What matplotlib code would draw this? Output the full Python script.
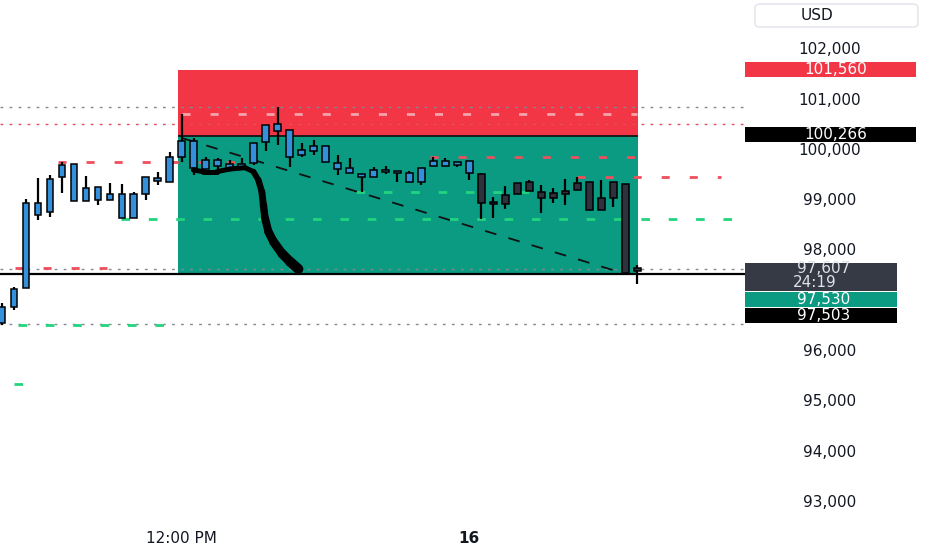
import matplotlib
matplotlib.use("Agg")
import matplotlib.pyplot as plt
import matplotlib.transforms as mtransforms
from matplotlib.patches import Rectangle, FancyBboxPatch
from matplotlib.collections import LineCollection
import numpy as np

plt.rcParams['font.family'] = ['DejaVu Sans']
plt.rcParams['lines.scale_dashes'] = False

# ---------------- data ----------------
opens = [96540, 96860, 97230, 98920, 98745, 99440, 99700, 98965, 99240, 98985,
         99100, 98630, 99100, 99420, 99340, 99840, 100160, 99600, 99780, 99700,
         99600, 99720, 100140, 100495, 100376, 99880, 99960, 100060, 99720, 99620,
         99500, 99440, 99580, 99560, 99520, 99340, 99660, 99760, 99740, 99760,
         99500, 98940, 98905, 99100, 99340, 99145, 99025, 99125, 99180, 99340,
         98785, 99025, 99300, 97600]
highs = [96940, 97250, 99000, 99420, 99480, 99740, 99700, 99460, 99240, 99320,
         99300, 99140, 99440, 99540, 99940, 100690, 100220, 99840, 99820, 99780,
         99820, 100120, 100475, 100830, 100376, 100120, 100180, 100060, 99880, 99820,
         99500, 99640, 99660, 99560, 99560, 99620, 99840, 99820, 99740, 99760,
         99520, 99040, 99260, 99320, 99380, 99280, 99220, 99400, 99440, 99340,
         99380, 99340, 99300, 97690]
lows = [96500, 96800, 97230, 98590, 98650, 99120, 98960, 98960, 98885, 98980,
        98625, 98625, 98985, 99280, 99340, 99740, 99480, 99600, 99600, 99600,
        99600, 99680, 99960, 100080, 99640, 99840, 99880, 99740, 99480, 99520,
        99140, 99440, 99500, 99340, 99340, 99280, 99660, 99660, 99640, 99380,
        98610, 98625, 98805, 99100, 99160, 98725, 98925, 98885, 99180, 98785,
        98785, 98845, 97533, 97310]
closes = [96860, 97210, 98920, 98690, 99400, 99680, 98965, 99220, 98985, 99100,
          98630, 99100, 99440, 99360, 99840, 100160, 99620, 99780, 99660, 99600,
          99700, 100117, 100475, 100360, 99840, 99980, 100060, 99740, 99600, 99520,
          99440, 99580, 99540, 99520, 99340, 99620, 99760, 99660, 99680, 99520,
          98925, 98905, 99085, 99320, 99165, 99025, 99125, 99140, 99320, 98785,
          99025, 99340, 97533, 97607]
n_blue = 40  # first candles drawn blue, later ones dark

time_ticks = [15, 39]
time_labels = ["12:00 PM", "16"]
price_ticks = [93000, 94000, 95000, 96000, 98000, 99000, 100000, 101000, 102000]

# position tool (short)
box_start, box_end = 14.7, 53.1
box_stop = 101560
box_entry = 100266
box_target = 97530

# price-scale labels
last_price = 97607
countdown = "24:19"
black_level = 97503

# full-width dotted levels
gray_dotted_levels = [100840, 97607, 96520]
red_dotted_levels = [100495]

# dashed horizontal segments
red_dash_prices = [99745, 99845, 99435, 97638]
red_dash_start = [4.7, 35.7, 48.0, 1.1]
red_dash_end = [19.5, 53.2, 60.0, 8.8]
green_dash_prices = [98600, 99143, 96500, 95320]
green_dash_start = [9.9, 29.5, 1.3, 1.0]
green_dash_end = [61.6, 44.5, 13.8, 1.9]
pink_dash_prices = [100694]
pink_dash_start = [15.0]
pink_dash_end = [53.0]

# trend line
trend_x = [15.1, 51.4]
trend_y = [100210, 97560]

# freehand drawing
curve_x = [15.97, 16.80, 17.92, 19.03, 20.28, 20.98, 21.39, 21.68, 21.81, 21.95,
           22.23, 22.65, 23.35, 24.04, 24.73]
curve_y = [99580, 99547, 99547, 99600, 99626, 99547, 99382, 99149, 98885, 98620,
           98354, 98155, 97924, 97757, 97612]

# ---------------- styling ----------------
RED = '#f23645'
TEAL = '#0b9a82'
BLUE = '#3590dc'
DARK = '#2e323d'
TXT = '#131722'
FS = 11

W, H = 932, 550
fig = plt.figure(figsize=(W / 100, H / 100), dpi=100)
AX_W, AX_H, AX_B = 745, 520, 30
ax = fig.add_axes([0, AX_B / H, AX_W / W, AX_H / H])
YMIN, YMAX = 92622, 102960
ax.set_xlim(-0.17, 62.0)
ax.set_ylim(YMIN, YMAX)
for s in ax.spines.values():
    s.set_visible(False)
ppx = (YMAX - YMIN) / AX_H  # price per pixel

# position box
ax.add_patch(Rectangle((box_start, box_entry), box_end - box_start, box_stop - box_entry,
                       fc=RED, ec='none', zorder=1))
ax.add_patch(Rectangle((box_start, box_target), box_end - box_start, box_entry - box_target,
                       fc=TEAL, ec='none', zorder=1))
ax.hlines(box_entry, box_start, box_end, color='#151515', lw=1.3, zorder=2)

# levels
for p in gray_dotted_levels:
    ax.axhline(p, color='#858995', lw=1.0, ls=(0, (2, 4.5)), zorder=1.5)
for p in red_dotted_levels:
    ax.axhline(p, color='#e4505c', lw=1.0, ls=(0, (2, 4.5)), zorder=1.5)
ax.axhline(black_level, color='black', lw=1.6, zorder=2)
ax.hlines(red_dash_prices, red_dash_start, red_dash_end, colors='#ee4f5c', lw=2.0,
          linestyles=[(0, (5.8, 14.4))], zorder=2)
ax.hlines(green_dash_prices, green_dash_start, green_dash_end, colors='#22d47e', lw=2.0,
          linestyles=[(0, (6.2, 13.5))], zorder=2)
ax.hlines(pink_dash_prices, pink_dash_start, pink_dash_end, colors='#f7a3ab', lw=2.0,
          linestyles=[(0, (5.8, 14.4))], zorder=2)

# trend line
ax.plot(trend_x, trend_y, color='#111111', lw=1.3, ls=(0, (8.5, 9)), zorder=2.2)

# candles
o = np.array(opens, float)
c = np.array(closes, float)
hi = np.array(highs, float)
lo = np.array(lows, float)
x = np.arange(len(o))
body_h = np.abs(c - o)
min_h = 2.5 * ppx
mid = (o + c) / 2
bottom = np.where(body_h < min_h, mid - min_h / 2, np.minimum(o, c))
body_h = np.maximum(body_h, min_h)
fills = [BLUE if i < n_blue else DARK for i in range(len(o))]
ax.vlines(x, lo, hi, color='black', lw=1.6, zorder=3)
ax.bar(x, body_h, bottom=bottom, width=0.56, color=fills, edgecolor='black',
       linewidth=1.1, zorder=3.5)

# freehand curve
pts = np.column_stack([curve_x, curve_y])
segs = np.stack([pts[:-1], pts[1:]], axis=1)
widths = np.concatenate([np.full(5, 3.6), np.linspace(4.2, 7.2, len(segs) - 5)])
lc = LineCollection(segs, colors='black', linewidths=widths,
                    capstyle='round', joinstyle='round', zorder=4)
ax.add_collection(lc)

# axes ticks
ax.yaxis.tick_right()
ax.set_yticks(price_ticks, labels=[f"{v:,}" for v in price_ticks])
ax.tick_params(axis='y', length=0, pad=61, labelsize=FS, labelcolor=TXT)
for t in ax.get_yticklabels():
    t.set_horizontalalignment('center')
ax.set_xticks(time_ticks, labels=time_labels)
ax.tick_params(axis='x', length=0, pad=8, labelsize=FS, labelcolor=TXT)
ax.get_xticklabels()[1].set_fontweight('bold')

# price-scale labels (boxes)
trans = mtransforms.blended_transform_factory(ax.transAxes, ax.transData)
lab_vals = [box_stop, box_entry, last_price, box_target, black_level]
lab_cols = [RED, '#000000', '#363a45', TEAL, '#000000']
lab_txtcol = ['white', 'white', '#dfe1e8', 'white', 'white']
lab_shift = [-1, -1, 7.7, 26.6, 40.8]      # px the box is pushed down (stacking)
lab_hpx = [15, 15, 28, 15, 15]
lab_wpx = [171, 171, 152, 152, 152]
lab_tx = [836, 836, 824, 824, 824]
lab_tshift = [-1, -1, -1, 26.6, 40.8]
for v, col, tc, sh, hp, wp, tx, ts in zip(lab_vals, lab_cols, lab_txtcol, lab_shift,
                                           lab_hpx, lab_wpx, lab_tx, lab_tshift):
    cy = v - sh * ppx
    ax.add_patch(Rectangle((1.0, cy - hp / 2 * ppx), wp / AX_W, hp * ppx, fc=col, ec='none',
                           transform=trans, clip_on=False, zorder=5))
    ax.text(tx / AX_W, v - ts * ppx, f"{v:,}", transform=trans, ha='center', va='center',
            color=tc, fontsize=FS, zorder=6, clip_on=False)
ax.text(815 / AX_W, last_price - 13.5 * ppx, countdown, transform=trans, ha='center',
        va='center', color='#dfe1e8', fontsize=FS, zorder=6, clip_on=False)

# currency box
fig.add_artist(FancyBboxPatch((755 / W, 1 - 27 / H), 163 / W, 23 / H,
                              boxstyle='round,pad=0,rounding_size=0.006',
                              transform=fig.transFigure, fc='white', ec='#e0e3eb', lw=1.0))
fig.text(817 / W, 1 - 15.5 / H, "USD", ha='center', va='center', fontsize=FS, color=TXT)

fig.savefig("out.png", dpi=100, facecolor='white')
